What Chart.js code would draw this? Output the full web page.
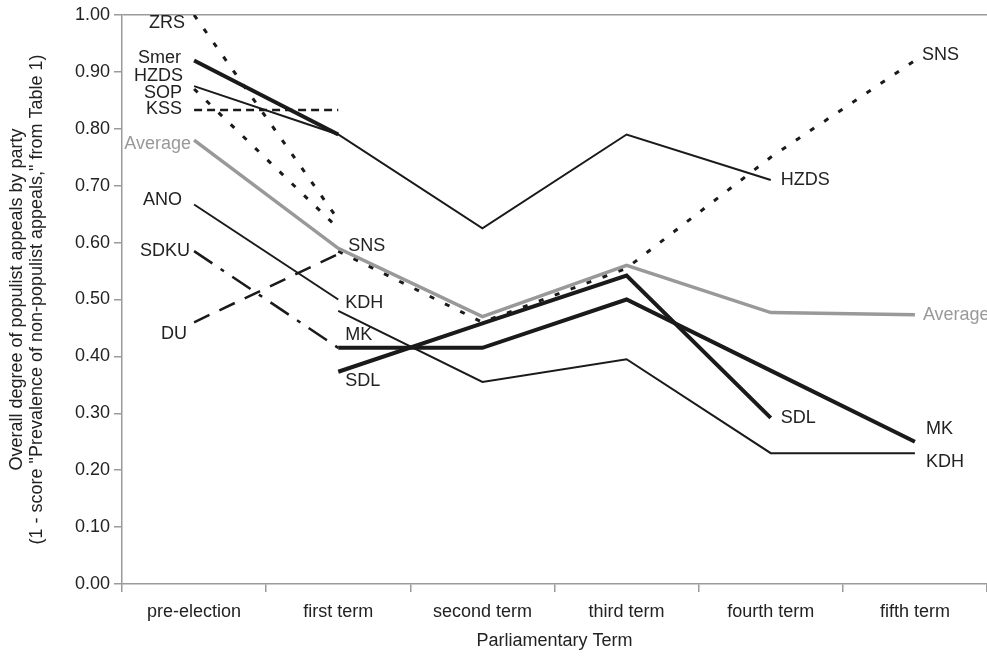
<!DOCTYPE html>
<html>
<head>
<meta charset="utf-8">
<title>Populist appeals by party</title>
<script src="https://cdn.jsdelivr.net/npm/chart.js@4.4.0/dist/chart.umd.min.js"></script>
<style>
    html, body { margin: 0; padding: 0; background: #fff; }
    #wrap { width: 987px; height: 657px; position: relative; }
</style>
</head>
<body>
<div id="wrap"><canvas id="myChart"></canvas></div>
<script>
// Categorias del eje x
const terms = ['pre-election', 'first term', 'second term', 'third term', 'fourth term', 'fifth term'];

// Valores por partido (null = sin dato en ese periodo)
const zrs     = [1.00, 0.64, null, null, null, null];
const smer    = [0.92, 0.79, null, null, null, null];
const hzds    = [0.875, 0.79, 0.625, 0.79, 0.71, null];
const sop     = [0.87, 0.625, null, null, null, null];
const kss     = [0.833, 0.833, null, null, null, null];
const average = [0.78, 0.59, 0.47, 0.56, 0.477, 0.473];
const ano     = [0.667, 0.50, null, null, null, null];
const sdku    = [0.585, 0.415, null, null, null, null];
const du      = [0.46, 0.58, null, null, null, null];
const sns     = [null, 0.585, 0.46, 0.555, 0.75, 0.92];
const kdh     = [null, 0.48, 0.355, 0.395, 0.23, 0.23];
const mk      = [null, 0.415, 0.415, 0.50, 0.375, 0.25];
const sdl     = [null, 0.373, 0.458, 0.542, 0.292, null];

// Ticks del eje y
const yTicks = [0, 0.1, 0.2, 0.3, 0.4, 0.5, 0.6, 0.7, 0.8, 0.9, 1.0];

const black = '#1a1a1a';
const grey = '#999999';
const axisGrey = '#9a9a9a';
const font = '"Liberation Sans", Arial, sans-serif';
const fontSize = 18;

const dotted = [5, 12];

// Crea un dataset de linea sin puntos
function makeLine(label, values, color, width, dash) {
    return {
        label: label,
        data: values,
        borderColor: color,
        borderWidth: width,
        borderDash: dash || [],
        pointRadius: 0,
        pointHoverRadius: 0,
        tension: 0,
        fill: false,
        spanGaps: false
    };
}

const datasets = [
    makeLine('Smer', smer, black, 4),
    makeLine('MK', mk, black, 4),
    makeLine('SDL', sdl, black, 4),
    makeLine('HZDS', hzds, black, 2),
    makeLine('ANO', ano, black, 2),
    makeLine('KDH', kdh, black, 2),
    makeLine('Average', average, grey, 3.5),
    makeLine('ZRS', zrs, black, 3, dotted),
    makeLine('SOP', sop, black, 3, dotted),
    makeLine('SNS', sns, black, 3, dotted),
    makeLine('KSS', kss, black, 2.5, [8, 5]),
    makeLine('DU', du, black, 2.5, [17, 11]),
    makeLine('SDKU', sdku, black, 2.5, [22, 10, 4, 10])
];

// Etiquetas junto a las lineas: serie, indice de periodo, desplazamiento en px
const partyLabels = [
    { text: 'ZRS', series: 'ZRS', i: 0, dx: -9, dy: 8, align: 'right' },
    { text: 'Smer', series: 'Smer', i: 0, dx: -13, dy: -2, align: 'right' },
    { text: 'HZDS', series: 'HZDS', i: 0, dx: -11, dy: -10, align: 'right' },
    { text: 'SOP', series: 'SOP', i: 0, dx: -12, dy: 4, align: 'right' },
    { text: 'KSS', series: 'KSS', i: 0, dx: -12, dy: -1, align: 'right' },
    { text: 'Average', series: 'Average', i: 0, dx: -3, dy: 4, align: 'right', color: grey },
    { text: 'ANO', series: 'ANO', i: 0, dx: -12, dy: -4, align: 'right' },
    { text: 'SDKU', series: 'SDKU', i: 0, dx: -4, dy: 0, align: 'right' },
    { text: 'DU', series: 'DU', i: 0, dx: -7, dy: 12, align: 'right' },
    { text: 'SNS', series: 'SNS', i: 1, dx: 10, dy: -5, align: 'left' },
    { text: 'KDH', series: 'KDH', i: 1, dx: 7, dy: -8, align: 'left' },
    { text: 'MK', series: 'MK', i: 1, dx: 7, dy: -13, align: 'left' },
    { text: 'SDL', series: 'SDL', i: 1, dx: 7, dy: 9, align: 'left' },
    { text: 'HZDS', series: 'HZDS', i: 4, dx: 10, dy: 0, align: 'left' },
    { text: 'SDL', series: 'SDL', i: 4, dx: 10, dy: 0, align: 'left' },
    { text: 'SNS', series: 'SNS', i: 5, dx: 7, dy: -5, align: 'left' },
    { text: 'Average', series: 'Average', i: 5, dx: 8, dy: 0, align: 'left', color: grey },
    { text: 'MK', series: 'MK', i: 5, dx: 11, dy: -13, align: 'left' },
    { text: 'KDH', series: 'KDH', i: 5, dx: 11, dy: 9, align: 'left' }
];

// Plugin que escribe el nombre del partido al lado del punto
const labelPlugin = {
    id: 'partyLabels',
    afterDatasetsDraw(chart) {
        const ctx = chart.ctx;
        ctx.save();
        ctx.font = fontSize + 'px ' + font;
        ctx.textBaseline = 'middle';
        partyLabels.forEach(l => {
            const idx = chart.data.datasets.findIndex(d => d.label === l.series);
            const pt = chart.getDatasetMeta(idx).data[l.i];
            if (!pt) return;
            ctx.fillStyle = l.color || '#222';
            ctx.textAlign = l.align;
            ctx.fillText(l.text, pt.x + l.dx, pt.y + l.dy);
        });
        ctx.restore();
    }
};

const myChart = new Chart(document.getElementById('myChart').getContext('2d'), {
    type: 'line',
    data: { labels: terms, datasets: datasets },
    plugins: [labelPlugin],
    options: {
        responsive: true,
        maintainAspectRatio: false,
        animation: false,
        layout: { padding: { top: 15, right: 0, bottom: 0, left: 0 } },
        plugins: {
            legend: { display: false },
            tooltip: { enabled: false }
        },
        scales: {
            x: {
                type: 'category',
                offset: true,
                afterFit: s => { s.height = 73; },
                grid: {
                    offset: true,
                    drawOnChartArea: false,
                    tickLength: 8,
                    color: axisGrey,
                    lineWidth: 1.5
                },
                border: { color: axisGrey, width: 1.5 },
                ticks: {
                    color: '#222',
                    padding: 9,
                    maxRotation: 0,
                    font: { family: font, size: fontSize }
                },
                title: {
                    display: true,
                    text: 'Parliamentary Term',
                    color: '#222',
                    font: { family: font, size: fontSize },
                    padding: { top: 0, bottom: 5 }
                }
            },
            y: {
                min: 0,
                max: 1,
                afterFit: s => { s.width = 122; },
                afterBuildTicks: s => { s.ticks = yTicks.map(v => ({ value: v })); },
                grid: {
                    tickLength: 8,
                    lineWidth: 1.5,
                    color: c => (c.tick && Math.abs(c.tick.value - 1) < 1e-6) ? axisGrey : 'rgba(0,0,0,0)',
                    tickColor: axisGrey
                },
                border: { color: axisGrey, width: 1.5 },
                ticks: {
                    color: '#222',
                    padding: 4,
                    font: { family: font, size: fontSize },
                    callback: v => Number(v).toFixed(2)
                },
                title: {
                    display: true,
                    text: ['Overall degree of populist appeals by party',
                           '(1 - score "Prevalence of non-populist appeals," from Table 1)'],
                    color: '#222',
                    font: { family: font, size: fontSize, lineHeight: '20px' },
                    padding: { top: 7, bottom: 0 }
                }
            }
        }
    }
});
</script>
</body>
</html>
